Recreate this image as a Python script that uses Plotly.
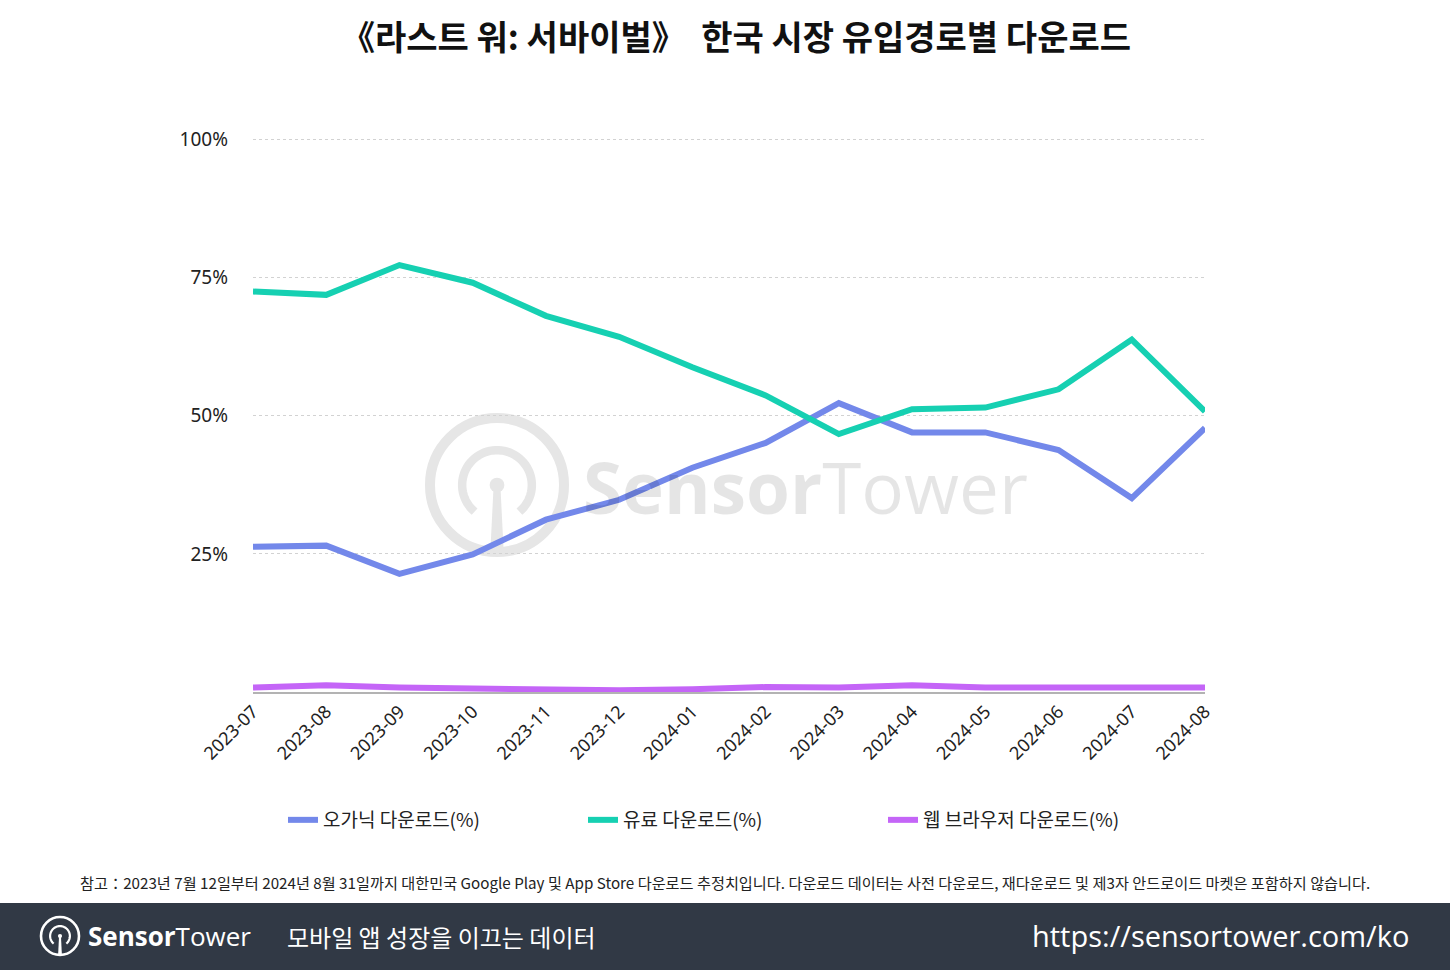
import numpy as np
import plotly.graph_objects as go

# ── Data ─────────────────────────────────────────────────────────────────────
months = ['2023-07', '2023-08', '2023-09', '2023-10', '2023-11', '2023-12',
          '2024-01', '2024-02', '2024-03', '2024-04', '2024-05', '2024-06',
          '2024-07', '2024-08']
organic = [26.3, 26.5, 21.4, 24.9, 31.2, 34.8, 40.6, 45.1, 52.3, 47.0, 47.0, 43.8, 35.1, 47.8]
paid    = [72.5, 71.9, 77.3, 74.1, 68.1, 64.3, 58.8, 53.7, 46.7, 51.2, 51.5, 54.8, 63.8, 50.8]
web     = [0.8, 1.2, 0.8, 0.7, 0.4, 0.3, 0.5, 0.9, 0.8, 1.2, 0.8, 0.8, 0.7, 0.8]

series_names = ['오가닉 다운로드(%)', '유료 다운로드(%)', '웹 브라우저 다운로드(%)']
y_ticks = [25, 50, 75, 100]
y_ticktext = ['25%', '50%', '75%', '100%']

COLORS = ['#7388ea', '#16d0b2', '#c465f7']
FONT = 'Noto Sans CJK KR'

# plot area in pixels (used only to place decorations)
PL, PR, PT, PB = 253, 1205, 138, 692


def px(x):
    return (x - PL) / (PR - PL)


def py(y):
    return (PB - y) / (PB - PT)


def logo_shapes(cx, cy, r, w, color):
    """SensorTower logo: outer ring, open inner arc, dot and stem."""
    shapes = []
    shapes.append(dict(type='circle', xref='paper', yref='paper',
                       x0=px(cx - r), x1=px(cx + r), y0=py(cy + r), y1=py(cy - r),
                       line=dict(color=color, width=w), layer='below'))
    ri = r * 0.52
    ang = np.radians(np.linspace(-50, 230, 60))
    pts = ['%s%.5f,%.5f' % ('M' if i == 0 else 'L', px(cx + ri * np.cos(a)), py(cy - ri * np.sin(a)))
           for i, a in enumerate(ang)]
    shapes.append(dict(type='path', xref='paper', yref='paper', path=' '.join(pts),
                       line=dict(color=color, width=w * 0.85), layer='below'))
    rd = r * 0.11
    shapes.append(dict(type='circle', xref='paper', yref='paper',
                       x0=px(cx - rd), x1=px(cx + rd), y0=py(cy + rd), y1=py(cy - rd),
                       fillcolor=color, line=dict(color=color, width=0), layer='below'))
    sw0, sw1 = r * 0.05, r * 0.10
    stem = 'M%.5f,%.5f L%.5f,%.5f L%.5f,%.5f L%.5f,%.5f Z' % (
        px(cx - sw0), py(cy), px(cx + sw0), py(cy),
        px(cx + sw1), py(cy + r), px(cx - sw1), py(cy + r))
    shapes.append(dict(type='path', xref='paper', yref='paper', path=stem,
                       fillcolor=color, line=dict(color=color, width=0), layer='below'))
    return shapes


# ── Figure ───────────────────────────────────────────────────────────────────
fig = go.Figure()
for name, vals, col in zip(series_names, [organic, paid, web], COLORS):
    fig.add_trace(go.Scatter(
        x=months, y=vals, mode='lines', name=name,
        line=dict(color=col, width=6),
    ))

shapes = []
# watermark
shapes += logo_shapes(497, 485, 67, 10, '#e6e6e6')

# footer bar
shapes.append(dict(type='rect', xref='paper', yref='paper',
                   x0=px(0), x1=px(1450), y0=py(970), y1=py(903),
                   fillcolor='#313945', line=dict(width=0), layer='below'))
fig.update_layout(shapes=shapes)
for s in logo_shapes(60, 936, 19, 2.6, 'white'):
    s['layer'] = 'above'
    fig.add_shape(**s)

fig.add_annotation(xref='paper', yref='paper', x=px(581), y=py(486),
                   xanchor='left', yanchor='middle', showarrow=False,
                   text='<b>Sensor</b>Tower',
                   font=dict(family='Open Sans', size=71, color='rgba(0,0,0,0.10)'))

fig.add_annotation(xref='paper', yref='paper', x=px(86), y=py(936),
                   xanchor='left', yanchor='middle', showarrow=False,
                   text='<b>Sensor</b>Tower',
                   font=dict(family='Open Sans', size=26, color='white'))
fig.add_annotation(xref='paper', yref='paper', x=px(285), y=py(936),
                   xanchor='left', yanchor='middle', showarrow=False,
                   text='모바일 앱 성장을 이끄는 데이터',
                   font=dict(family=FONT, size=24, color='white'))
fig.add_annotation(xref='paper', yref='paper', x=px(1411), y=py(935),
                   xanchor='right', yanchor='middle', showarrow=False,
                   text='https://sensortower.com/ko',
                   font=dict(family='Open Sans', size=29, color='white'))

# footnote
fig.add_annotation(xref='paper', yref='paper', x=px(78), y=py(882),
                   xanchor='left', yanchor='middle', showarrow=False,
                   text='참고：2023년 7월 12일부터 2024년 8월 31일까지 대한민국 Google Play 및 App Store 다운로드 추정치입니다. '
                        '다운로드 데이터는 사전 다운로드, 재다운로드 및 제3자 안드로이드 마켓은 포함하지 않습니다.',
                   font=dict(family=FONT, size=15.2, color='#222222'))

fig.update_layout(
    width=1450, height=970,
    margin=dict(l=PL, r=1450 - PR, t=PT, b=970 - PB),
    paper_bgcolor='white', plot_bgcolor='white',
    font=dict(family=FONT, color='#222222'),
    title=dict(text='<b>《라스트 워: 서바이벌》  한국 시장 유입경로별 다운로드</b>',
               x=736 / 1450, xanchor='center', y=1 - 38 / 970, yanchor='middle',
               font=dict(family=FONT, size=34, color='#111111')),
    xaxis=dict(
        type='category', range=[0, 13], tickangle=-45,
        showgrid=False, showline=True, linecolor='#b3b3b3', linewidth=2,
        ticks='', tickfont=dict(family='Noto Sans', size=18, color='#222222'),
    ),
    yaxis=dict(
        range=[0, 100.3], tickvals=y_ticks, ticktext=y_ticktext,
        showgrid=True, gridcolor='#d2d2d2', griddash='dot', gridwidth=1,
        zeroline=False, showline=False, ticks='', ticklabelstandoff=24,
        tickfont=dict(family='Noto Sans', size=19, color='#222222'),
    ),
    showlegend=True,
    legend=dict(orientation='h', x=px(283), xanchor='left', y=py(820), yanchor='middle',
                entrywidth=255, entrywidthmode='pixels',
                font=dict(family=FONT, size=19, color='#222222'),
                itemwidth=30),
)

fig.write_html('out.html', config={'displayModeBar': False},
               post_script="document.body.style.margin='0';")
